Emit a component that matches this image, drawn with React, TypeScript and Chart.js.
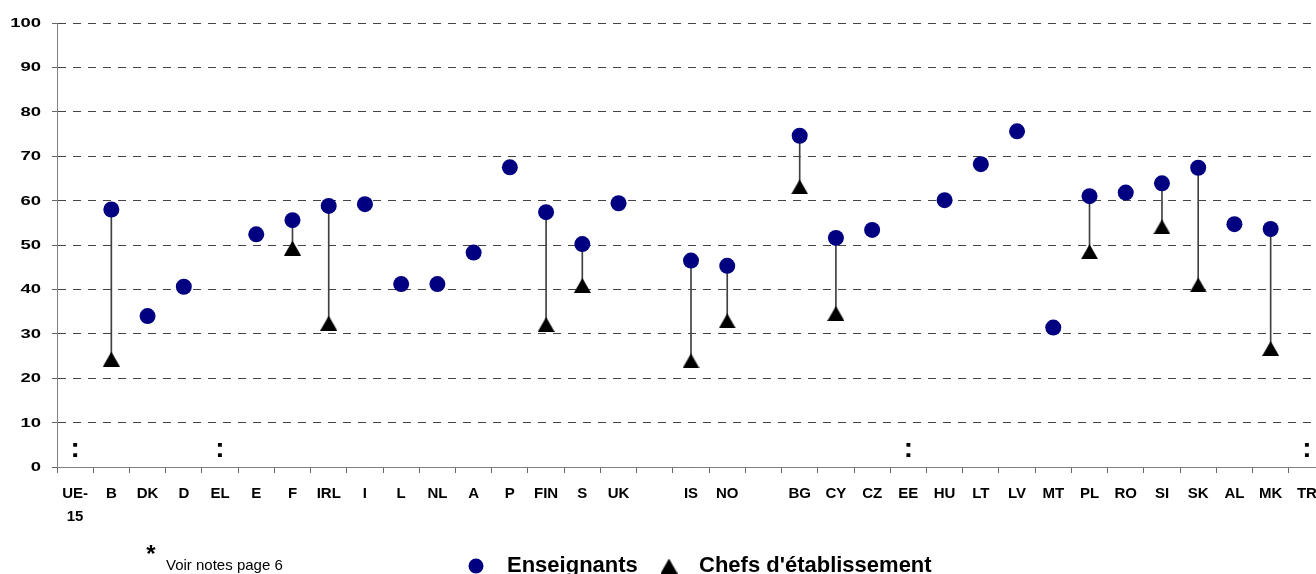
import React, { useEffect, useRef } from "react";
import { Chart, registerables } from "chart.js";

Chart.register(...registerables);

// ---- data ----
const categories = [
  "UE-15", "B", "DK", "D", "EL", "E", "F", "IRL", "I", "L", "NL", "A", "P", "FIN", "S", "UK",
  " ", "IS", "NO", "  ",
  "BG", "CY", "CZ", "EE", "HU", "LT", "LV", "MT", "PL", "RO", "SI", "SK", "AL", "MK", "TR",
];

const teachers: (number | null)[] = [
  null, 58.0, 34.0, 40.6, null, 52.4, 55.6, 58.8, 59.2, 41.2, 41.2, 48.3, 67.5, 57.4, 50.2, 59.4,
  null, 46.5, 45.3, null,
  74.6, 51.6, 53.4, null, 60.1, 68.2, 75.6, 31.4, 61.0, 61.8, 63.9, 67.4, 54.7, 53.6, null,
];

const heads: (number | null)[] = [
  null, 24.3, null, null, null, null, 49.3, 32.4, null, null, null, null, null, 32.1, 40.9, null,
  null, 23.9, 32.9, null,
  63.1, 34.6, null, null, null, null, null, null, 48.5, null, 54.1, 41.0, null, 26.7, null,
];

const notAvailable = ["UE-15", "EL", "EE", "TR"];
const notAvailableLevel = 4;

const yMin = 0;
const yMax = 100;
const yStep = 10;

const seriesNames = ["Enseignants", "Chefs d'établissement"];
const footnote = "Voir notes page 6";

// ---- styles ----
const FONT = '"Liberation Sans", Arial, Helvetica, sans-serif';
const NAVY = "#000080";

function makeTriangle(w: number, h: number, color: string) {
  const c = document.createElement("canvas");
  c.width = w;
  c.height = h;
  const g = c.getContext("2d")!;
  g.fillStyle = color;
  g.beginPath();
  g.moveTo(w / 2, 0);
  g.lineTo(w, h);
  g.lineTo(0, h);
  g.closePath();
  g.fill();
  return c;
}

export default function App() {
  const ref = useRef<HTMLCanvasElement | null>(null);

  useEffect(() => {
    if (!ref.current) return;
    const tri = makeTriangle(17, 15, "#000");

    const connectors = heads.map((h, i) => {
      const t = teachers[i];
      return h == null || t == null ? null : [Math.min(h, t), Math.max(h, t)];
    });

    const overlay = {
      id: "overlay",
      afterDraw(chart: any) {
        const { ctx, scales } = chart;
        const x = scales.x;
        const y = scales.y;
        ctx.save();
        ctx.fillStyle = "#000";

        // y tick labels (wide bold)
        ctx.font = `bold 13px ${FONT}`;
        ctx.textAlign = "right";
        ctx.textBaseline = "middle";
        y.ticks.forEach((t: any) => {
          const py = y.getPixelForValue(t.value);
          ctx.save();
          ctx.translate(y.right - 16, py + 0.5);
          ctx.scale(1.42, 1);
          ctx.fillText(String(t.value), 0, 0);
          ctx.restore();
        });

        // not available markers
        ctx.font = `bold 28px ${FONT}`;
        ctx.textAlign = "center";
        ctx.textBaseline = "alphabetic";
        notAvailable.forEach((lbl) => {
          const i = categories.indexOf(lbl);
          if (i < 0) return;
          ctx.fillText(":", x.getPixelForValue(i), y.getPixelForValue(notAvailableLevel) + 7.5);
        });

        // legend
        const ly = 566;
        ctx.fillStyle = NAVY;
        ctx.beginPath();
        ctx.arc(476, ly, 7.5, 0, Math.PI * 2);
        ctx.fill();
        ctx.drawImage(tri, 669 - 8.5, ly - 7.5);
        ctx.fillStyle = "#000";
        ctx.font = `bold 22px ${FONT}`;
        ctx.textAlign = "left";
        ctx.textBaseline = "alphabetic";
        ctx.fillText(seriesNames[0], 507, 572);
        ctx.fillText(seriesNames[1], 699, 572);

        // footnote
        ctx.font = `bold 24px ${FONT}`;
        ctx.textAlign = "center";
        ctx.fillText("*", 151, 562);
        ctx.font = `15px ${FONT}`;
        ctx.textAlign = "left";
        ctx.fillText(footnote, 166, 570);

        ctx.restore();
      },
    };

    const chart = new Chart(ref.current, {
      type: "bar",
      data: {
        labels: categories,
        datasets: [
          {
            type: "line",
            label: seriesNames[0],
            data: teachers,
            showLine: false,
            pointStyle: "circle",
            pointRadius: 8,
            pointBackgroundColor: NAVY,
            pointBorderColor: NAVY,
            pointBorderWidth: 0,
            order: 1,
          } as any,
          {
            type: "line",
            label: seriesNames[1],
            data: heads,
            showLine: false,
            pointStyle: tri,
            pointRadius: 8,
            order: 2,
          } as any,
          {
            type: "bar",
            label: "range",
            data: connectors as any,
            backgroundColor: "#404040",
            borderWidth: 0,
            barThickness: 1,
            order: 3,
          } as any,
        ],
      },
      options: {
        responsive: false,
        animation: false,
        events: [],
        layout: { padding: { top: 23, left: 0, right: 0, bottom: 0 } },
        plugins: {
          legend: { display: false },
          tooltip: { enabled: false },
        },
        scales: {
          x: {
            offset: true,
            grid: {
              offset: true,
              drawOnChartArea: false,
              drawTicks: true,
              tickLength: 6,
              color: "#666",
              tickColor: "#666",
            },
            border: { display: true, color: "#808080", width: 1 },
            ticks: {
              color: "#000",
              font: { family: FONT, size: 15, weight: "bold", lineHeight: 1.5 },
              padding: 10,
              maxRotation: 0,
              minRotation: 0,
              autoSkip: false,
              callback: (v: any) => {
                const l = categories[v as number];
                return l === "UE-15" ? ["UE-", "15"] : l;
              },
            },
            afterFit: (s: any) => {
              s.height = 107;
            },
          },
          y: {
            min: yMin,
            max: yMax,
            ticks: { stepSize: yStep, display: false },
            grid: {
              color: "#444",
              lineWidth: 1,
              drawTicks: true,
              tickLength: 5,
              tickColor: "#666",
              tickBorderDash: [],
            },
            border: { display: true, color: "#808080", width: 1, dash: [8, 7] },
            afterFit: (s: any) => {
              s.width = 57;
            },
          },
        },
      },
      plugins: [overlay],
    });

    return () => chart.destroy();
  }, []);

  return (
    <div
      style={{
        position: "absolute",
        left: 0,
        top: 0,
        width: 1316,
        height: 574,
        overflow: "hidden",
        background: "#fff",
      }}
    >
      <canvas ref={ref} width={1334} height={574} style={{ display: "block", width: 1334, height: 574 }} />
    </div>
  );
}
